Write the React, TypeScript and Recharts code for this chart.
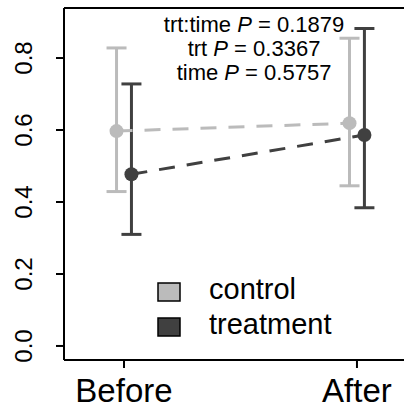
import {
    ComposedChart,
    ErrorBar,
    Legend,
    ReferenceLine,
    Scatter,
    XAxis,
    YAxis,
    Customized,
} from "recharts";

const categories = ["Before", "After"];
const controlMean = [0.597, 0.619];
const controlLower = [0.429, 0.445];
const controlUpper = [0.828, 0.855];
const treatmentMean = [0.477, 0.586];
const treatmentLower = [0.31, 0.384];
const treatmentUpper = [0.728, 0.882];
const yTicks = [0, 0.2, 0.4, 0.6, 0.8];
const pLines = [
    { term: "trt:time", p: "0.1879" },
    { term: "trt", p: "0.3367" },
    { term: "time", p: "0.5757" },
];

const CONTROL = "#bbbbbb";
const TREATMENT = "#404040";
const FONT = "'Liberation Sans', Arial, sans-serif";

const X_DOMAIN: [number, number] = [0.7425, 2.262];
const Y_DOMAIN: [number, number] = [-0.039, 0.939];
const DODGE = 0.032;

function buildSeries(mean: number[], lower: number[], upper: number[], shift: number) {
    return mean.map((m, i) => ({
        x: i + 1 + shift,
        y: m,
        err: [m - lower[i], upper[i] - m],
    }));
}

const controlData = buildSeries(controlMean, controlLower, controlUpper, -DODGE);
const treatmentData = buildSeries(treatmentMean, treatmentLower, treatmentUpper, DODGE);

const legendItems = [
    { name: "control", color: CONTROL },
    { name: "treatment", color: TREATMENT },
];

function YTick(props: any) {
    const { y, payload } = props;
    return (
        <text
            transform={`translate(32, ${y}) rotate(-90)`}
            textAnchor="middle"
            fontSize={24}
            fill="#000"
            fontFamily={FONT}
        >
            {payload.value.toFixed(1)}
        </text>
    );
}

function XTick(props: any) {
    const { x, payload } = props;
    return (
        <text x={x} y={402} textAnchor="middle" fontSize={33} fill="#000" fontFamily={FONT}>
            {categories[payload.value - 1]}
        </text>
    );
}

function Dot(color: string) {
    return (p: any) => <circle cx={p.cx} cy={p.cy} r={7} fill={color} />;
}

function LegendBox() {
    return (
        <svg width={200} height={60} style={{ overflow: "visible" }}>
            {legendItems.map((item, i) => (
                <g key={item.name} transform={`translate(0, ${i * 35})`}>
                    <rect x={1} y={1} width={22} height={18} fill={item.color} stroke="#000" strokeWidth={1.5} />
                    <text x={52} y={17} fontSize={29} fill="#000" fontFamily={FONT}>
                        {item.name}
                    </text>
                </g>
            ))}
        </svg>
    );
}

function PValues() {
    return (
        <text textAnchor="middle" fontSize={22} fill="#000" fontFamily={FONT}>
            {pLines.map((l, i) => (
                <tspan key={l.term} x={254} y={32 + i * 24}>
                    {l.term} <tspan fontStyle="italic">P</tspan> = {l.p}
                </tspan>
            ))}
        </text>
    );
}

const frameLine = { stroke: "#000", strokeWidth: 2, ifOverflow: "visible" as const };

export default function App() {
    return (
        <div
            style={{
                position: "absolute",
                left: 0,
                top: 0,
                width: 404,
                height: 408,
                overflow: "hidden",
                background: "#fff",
            }}
        >
            <ComposedChart width={440} height={408} margin={{ top: 8, right: 22, bottom: 0, left: 0 }}>
                <XAxis
                    type="number"
                    dataKey="x"
                    domain={X_DOMAIN}
                    ticks={[1, 2]}
                    allowDataOverflow
                    axisLine={false}
                    stroke="#000"
                    tickSize={8}
                    tickLine={{ stroke: "#000", strokeWidth: 2 }}
                    tick={<XTick />}
                    height={48}
                />
                <YAxis
                    type="number"
                    dataKey="y"
                    domain={Y_DOMAIN}
                    ticks={yTicks}
                    allowDataOverflow
                    axisLine={false}
                    stroke="#000"
                    tickSize={8}
                    tickLine={{ stroke: "#000", strokeWidth: 2 }}
                    tick={<YTick />}
                    width={64}
                />
                {/* plot frame: top, bottom and left edges */}
                <ReferenceLine y={Y_DOMAIN[1]} {...frameLine} />
                <ReferenceLine y={Y_DOMAIN[0]} {...frameLine} />
                <ReferenceLine x={X_DOMAIN[0]} {...frameLine} />
                <Scatter
                    data={controlData}
                    fill={CONTROL}
                    shape={Dot(CONTROL)}
                    line={{ stroke: CONTROL, strokeWidth: 3, strokeDasharray: "16 12" }}
                    isAnimationActive={false}
                >
                    <ErrorBar dataKey="err" direction="y" width={10} strokeWidth={3} stroke={CONTROL} />
                </Scatter>
                <Scatter
                    data={treatmentData}
                    fill={TREATMENT}
                    shape={Dot(TREATMENT)}
                    line={{ stroke: TREATMENT, strokeWidth: 3, strokeDasharray: "16 12" }}
                    isAnimationActive={false}
                >
                    <ErrorBar dataKey="err" direction="y" width={10} strokeWidth={3} stroke={TREATMENT} />
                </Scatter>
                <Customized component={<PValues />} />
                <Legend
                    layout="vertical"
                    align="center"
                    verticalAlign="middle"
                    content={<LegendBox />}
                    wrapperStyle={{ left: 157, top: 282, width: 200, height: 60 }}
                />
            </ComposedChart>
        </div>
    );
}
